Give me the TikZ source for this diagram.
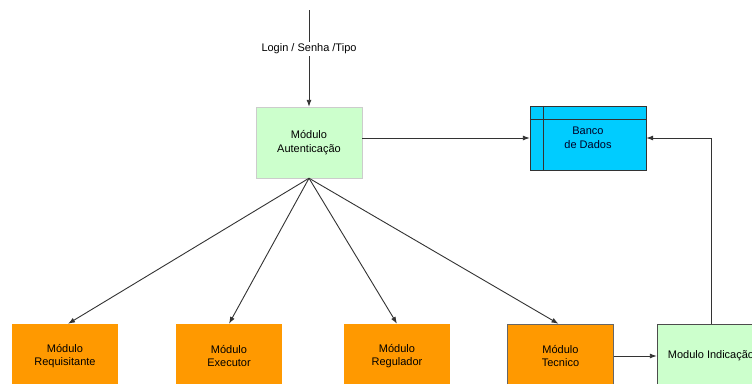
\documentclass[tikz,border=0pt]{standalone}
\usepackage{fontspec}
\setmainfont{Liberation Sans}
\usetikzlibrary{arrows.meta,positioning,calc}
\definecolor{boxgreen}{HTML}{CCFFCC}
\definecolor{boxorange}{HTML}{FF9900}
\definecolor{boxcyan}{HTML}{00CCFF}
\definecolor{linegray}{HTML}{333333}
\begin{document}
\begin{tikzpicture}[x=1pt,y=-1pt,
  every node/.style={font=\fontsize{11}{13.5}\selectfont, align=center, inner sep=0pt},
  greenbox/.style={draw=#1, fill=boxgreen, minimum width=106pt, minimum height=71pt},
  orangebox/.style={fill=boxorange, minimum width=106pt, minimum height=64pt},
  dbbox/.style={draw=black!80, fill=boxcyan, minimum width=116pt, minimum height=64pt, text=black!85!blue},
  conn/.style={draw=linegray, line width=0.9pt, -{Latex[length=7pt,width=5pt]}}
]
\useasboundingbox (0,0) rectangle (752,383);
\clip (0,0) rectangle (752,383);
\fill[white] (0,0) rectangle (752,383);

\node[greenbox=black!20] (auth) at (309,142.5) {Módulo\\Autenticação};
\node[dbbox] (db) at (588,138) {Banco\\de Dados};
\draw[black!80, line width=0.8pt] ($(db.north west)+(14,0)$) -- ($(db.south west)+(14,0)$);
\draw[black!80, line width=0.8pt] ($(db.north west)+(0,14)$) -- ($(db.north east)+(0,14)$);

\node[orangebox] (req) at (65,356) {Módulo\\Requisitante};
\node[orangebox] (exe) at (229,356) {Módulo\\Executor};
\node[orangebox] (reg) at (397,356) {Módulo\\Regulador};
\node[orangebox, draw=black!60] (tec) at (560.5,356) {Módulo\\Tecnico};
\node[greenbox=black!70, minimum width=108pt, minimum height=64pt] (ind) at (711,356) {Modulo Indicação};

\coordinate (in) at (309,10);
\draw[conn] (in) -- node[fill=white, inner sep=2pt, pos=0.4] (lbl) {Login / Senha /Tipo} (auth.north);

\draw[conn] (auth.east |- db.west) -- (db.west);
\draw[conn] (auth.south) -- ($(req.north)+(3,0)$);
\draw[conn] (auth.south) -- (exe.north);
\draw[conn] (auth.south) -- (reg.north);
\draw[conn] (auth.south) -- ($(tec.north)+(-2,0)$);
\draw[conn] (tec.east |- ind.west) -- (ind.west);
\draw[conn] (ind.north) |- (db.east);
\end{tikzpicture}
\end{document}
